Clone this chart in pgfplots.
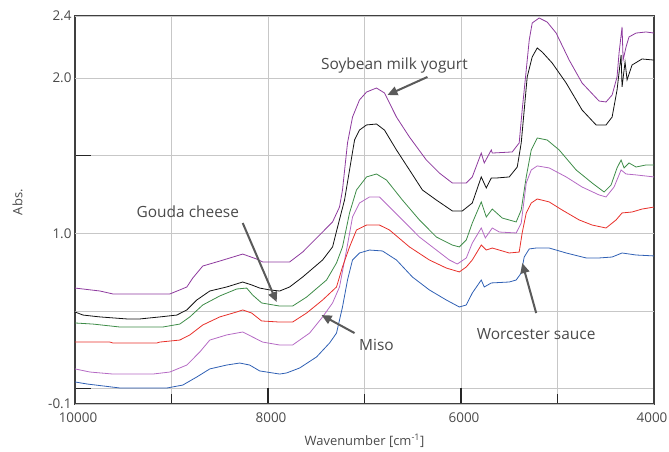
\documentclass[border=0pt]{standalone}
\usepackage{fontspec}
\setmainfont{Open Sans}
\usepackage{pgfplots}
\pgfplotsset{compat=1.18}
\usetikzlibrary{arrows.meta}

\definecolor{soy}{HTML}{8E3A9E}
\definecolor{blk}{HTML}{111111}
\definecolor{grn}{HTML}{3E8C48}
\definecolor{lpur}{HTML}{B56AC4}
\definecolor{red1}{HTML}{E8302A}
\definecolor{blu}{HTML}{2F60B4}
\definecolor{txt}{HTML}{4A4A4A}
\definecolor{arr}{HTML}{5A5A5A}

\begin{document}
\begin{tikzpicture}[x=1bp,y=1bp]
\useasboundingbox (-75,-48) rectangle (594,404);
\begin{axis}[
  at={(0,0)}, anchor=south west,
  scale only axis, width=579bp, height=388bp,
  xmin=4000, xmax=10000, x dir=reverse,
  ymin=-0.1, ymax=2.4,
  xtick={4000,6000,8000,10000}, minor xtick={5000,7000,9000},
  scaled x ticks=false,
  xticklabels={\hspace*{-10bp}4000,6000,8000,10000},
  ytick={0,1.5}, yticklabels={,,},
  extra y ticks={-0.1,1,2,2.4},
  extra y tick labels={-0.1,1.0,2.0,2.4},
  extra y tick style={major tick length=0pt, grid=major},
  xmajorgrids, xminorgrids, ymajorgrids,
  major grid style={black!22, line width=0.6bp},
  minor grid style={black!22, line width=0.6bp},
  major tick length=16bp, minor tick length=10bp,
  tick style={line width=1.2bp, color=black!85},
  tick pos=left,
  axis line style={black!75, line width=1.4bp},
  tick label style={font=\fontsize{13.5}{16}\selectfont, text=txt},
  xticklabel style={yshift=-5bp, xshift=3bp},
  xlabel={Wavenumber [cm\textsuperscript{-1}]},
  ylabel={Abs.},
  label style={font=\fontsize{13}{15}\selectfont, text=txt},
  x label style={at={(axis description cs:0.5,-0.095)}, anchor=center},
  y label style={at={(axis description cs:-0.099,0.52)}, anchor=center},
  every axis plot/.append style={line width=0.8bp, mark=none},
]
\draw[black!22, line width=0.6bp] (axis cs:10000,0.5) -- (axis cs:4000,0.5);

% Soybean milk yogurt
\addplot[soy] coordinates {
(10000,0.647) (9741,0.628) (9607,0.609) (9017,0.609) (8914,0.635) (8841,0.654)
(8779,0.712) (8676,0.789) (8500,0.821) (8262,0.866) (8117,0.834) (8055,0.815)
(7776,0.815) (7641,0.879) (7465,0.989) (7331,1.073) (7259,1.169) (7228,1.279)
(7176,1.582) (7124,1.749) (7052,1.859) (6979,1.910) (6876,1.936) (6793,1.904)
(6669,1.749) (6534,1.620) (6359,1.472) (6224,1.388) (6090,1.324) (5945,1.324)
(5883,1.363) (5790,1.517) (5759,1.453) (5686,1.537) (5676,1.517) (5469,1.524)
(5397,1.582) (5366,1.794) (5324,2.052) (5293,2.245) (5262,2.355) (5190,2.387)
(5107,2.361) (5014,2.290) (4879,2.116) (4745,1.968) (4569,1.852) (4497,1.846)
(4434,1.891) (4383,2.007) (4362,2.162) (4331,2.329) (4320,2.116) (4290,2.200)
(4259,2.265) (4186,2.290) (4083,2.297) (4000,2.290)
};
% black
\addplot[blk] coordinates {
(10000,0.493) (9917,0.473) (9741,0.461) (9462,0.448) (9328,0.448) (9121,0.461)
(8945,0.473) (8841,0.506) (8738,0.570) (8603,0.628) (8428,0.654) (8262,0.686)
(8169,0.667) (8086,0.647) (7983,0.635) (7879,0.628) (7776,0.654) (7641,0.718)
(7434,0.828) (7331,0.912) (7279,1.040) (7207,1.214) (7155,1.408) (7103,1.601)
(7052,1.665) (6979,1.698) (6876,1.704) (6793,1.665) (6669,1.537) (6534,1.408)
(6400,1.279) (6255,1.214) (6090,1.144) (5986,1.144) (5883,1.195) (5790,1.363)
(5738,1.292) (5686,1.356) (5634,1.356) (5500,1.363) (5417,1.427) (5376,1.582)
(5345,1.794) (5314,2.007) (5262,2.136) (5210,2.194) (5159,2.168) (5055,2.097)
(4910,1.968) (4745,1.794) (4600,1.698) (4497,1.698) (4434,1.749) (4383,1.923)
(4341,2.149) (4331,1.943) (4300,2.104) (4279,1.988) (4228,2.084) (4124,2.123)
(4000,2.116)
};
% green
\addplot[grn] coordinates {
(10000,0.422) (9814,0.415) (9534,0.396) (9090,0.396) (8914,0.415) (8810,0.461)
(8676,0.538) (8500,0.596) (8324,0.641) (8221,0.647) (8159,0.602) (8066,0.551)
(7879,0.531) (7745,0.531) (7600,0.589) (7393,0.699) (7290,0.809) (7228,0.912)
(7155,1.131) (7083,1.279) (6979,1.363) (6876,1.382) (6772,1.343) (6607,1.214)
(6431,1.086) (6255,0.976) (6090,0.924) (6017,0.912) (5945,0.957) (5883,1.066)
(5790,1.202) (5738,1.105) (5676,1.156) (5572,1.098) (5428,1.073) (5376,1.150)
(5324,1.363) (5272,1.537) (5210,1.614) (5107,1.601) (4983,1.537) (4807,1.408)
(4641,1.324) (4517,1.266) (4445,1.311) (4383,1.421) (4341,1.472) (4310,1.421)
(4259,1.453) (4186,1.427) (4083,1.440) (4000,1.440)
};
% Miso
\addplot[lpur] coordinates {
(10000,0.126) (9845,0.106) (9607,0.093) (9193,0.093) (9017,0.106) (8841,0.151)
(8707,0.235) (8603,0.312) (8428,0.345) (8262,0.364) (8138,0.325) (8055,0.299)
(7879,0.280) (7745,0.280) (7569,0.357) (7434,0.461) (7331,0.551) (7259,0.654)
(7186,0.892) (7124,1.105) (7052,1.195) (6948,1.234) (6845,1.234) (6741,1.169)
(6607,1.086) (6431,0.976) (6255,0.892) (6121,0.828) (6038,0.802) (5945,0.841)
(5883,0.937) (5790,1.034) (5748,0.970) (5676,1.034) (5603,1.008) (5428,1.002)
(5376,1.066) (5324,1.324) (5272,1.408) (5210,1.434) (5086,1.421) (4910,1.363)
(4745,1.298) (4569,1.247) (4497,1.234) (4414,1.298) (4341,1.408) (4290,1.382)
(4186,1.376) (4000,1.363)
};
% red
\addplot[red1] coordinates {
(10000,0.299) (9638,0.299) (9607,0.293) (9152,0.293) (9121,0.299) (8914,0.312)
(8810,0.345) (8676,0.409) (8500,0.461) (8324,0.493) (8262,0.506) (8169,0.486)
(8066,0.435) (7879,0.428) (7745,0.428) (7600,0.486) (7434,0.570) (7290,0.654)
(7228,0.783) (7155,0.912) (7083,1.021) (6979,1.053) (6845,1.053) (6741,1.021)
(6534,0.912) (6328,0.828) (6152,0.776) (6017,0.751) (5945,0.783) (5883,0.828)
(5790,0.924) (5738,0.892) (5676,0.905) (5500,0.873) (5397,0.879) (5366,1.002)
(5324,1.131) (5272,1.195) (5210,1.221) (5086,1.202) (4952,1.150) (4776,1.086)
(4641,1.053) (4497,1.034) (4393,1.086) (4331,1.131) (4228,1.137) (4124,1.156)
(4000,1.169)
};
% Worcester sauce
\addplot[blu] coordinates {
(10000,0.042) (9876,0.029) (9534,0.003) (9048,0.003) (8883,0.022) (8738,0.074)
(8603,0.126) (8428,0.151) (8293,0.164) (8190,0.151) (8086,0.113) (7879,0.093)
(7807,0.100) (7672,0.132) (7497,0.203) (7362,0.293) (7290,0.357) (7228,0.525)
(7176,0.699) (7124,0.828) (7052,0.873) (6948,0.892) (6814,0.886) (6669,0.828)
(6503,0.718) (6328,0.635) (6152,0.570) (6017,0.525) (5945,0.538) (5883,0.615)
(5790,0.699) (5759,0.654) (5686,0.680) (5500,0.686) (5428,0.699) (5376,0.744)
(5345,0.847) (5293,0.899) (5221,0.905) (5086,0.905) (4910,0.873) (4703,0.841)
(4569,0.841) (4434,0.847) (4331,0.873) (4186,0.860) (4000,0.854)
};

\tikzset{ann/.style={font=\fontsize{15.5}{18}\selectfont, text=txt},
         pt/.style={-{Triangle[length=10bp,width=9bp]}, line width=2bp, color=arr}}
\node[ann] at (axis cs:6690,2.084) {Soybean milk yogurt};
\draw[pt] (axis cs:6348,2.007) -- (axis cs:6762,1.891);
\node[ann] at (axis cs:8831,1.137) {Gouda cheese};
\draw[pt] (axis cs:8262,1.066) -- (axis cs:7910,0.557);
\node[ann] at (axis cs:6876,0.280) {Miso};
\draw[pt] (axis cs:7103,0.357) -- (axis cs:7445,0.473);
\node[ann] at (axis cs:5221,0.351) {Worcester sauce};
\draw[pt] (axis cs:5221,0.486) -- (axis cs:5365,0.808);
\end{axis}
\end{tikzpicture}
\end{document}
